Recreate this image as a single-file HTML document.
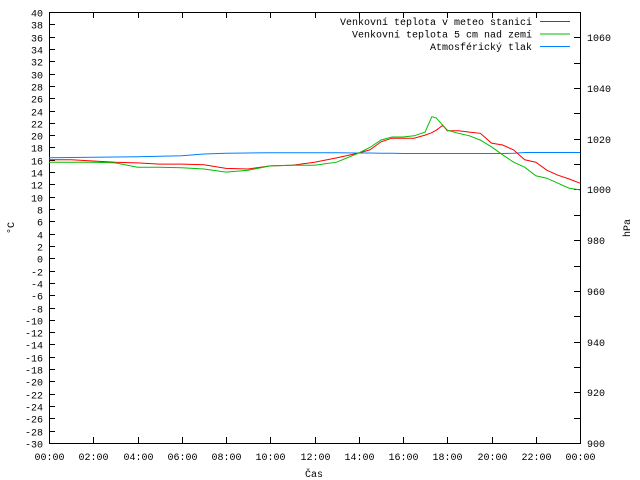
<!DOCTYPE html>
<html><head><meta charset="utf-8"><style>
body{margin:0;background:#fff}
svg{display:block;font-family:"Liberation Mono",monospace;font-size:10px}
</style></head><body>
<svg id="c" width="640" height="480"></svg>
<script>
const hours=[0,1,2,3,4,5,6,7,8,9,10,11,12,13,14,14.5,15,15.5,16,16.5,17,17.3,17.5,17.8,18,18.5,19,19.5,20,20.5,21,21.5,22,22.5,23,23.5,24];
const tempStation=[16,16,15.8,15.6,15.5,15.3,15.3,15.2,14.6,14.5,15,15.1,15.6,16.3,17.1,17.6,18.9,19.5,19.5,19.5,20,20.4,20.8,21.6,20.7,20.7,20.5,20.3,18.7,18.4,17.6,16,15.6,14.3,13.5,12.9,12.2];
const tempGround=[15.6,15.6,15.6,15.5,14.8,14.8,14.7,14.5,14,14.3,15,15.1,15.1,15.6,17.1,18,19.2,19.7,19.7,19.9,20.5,23,22.8,21.6,20.8,20.3,19.9,19.2,18.1,16.8,15.6,14.8,13.4,13,12.2,11.4,11.1];
const pressure=[1012.5,1012.6,1012.7,1012.8,1012.9,1013.1,1013.3,1014,1014.3,1014.4,1014.5,1014.5,1014.5,1014.5,1014.4,1014.4,1014.3,1014.3,1014.2,1014.2,1014.2,1014.2,1014.2,1014.2,1014.2,1014.2,1014.2,1014.2,1014.2,1014.2,1014.3,1014.6,1014.6,1014.6,1014.6,1014.6,1014.6];
const yTicks=[-30,-28,-26,-24,-22,-20,-18,-16,-14,-12,-10,-8,-6,-4,-2,0,2,4,6,8,10,12,14,16,18,20,22,24,26,28,30,32,34,36,38,40];
const pTicks=[900,920,940,960,980,1000,1020,1040,1060];
const xTicks=["00:00","02:00","04:00","06:00","08:00","10:00","12:00","14:00","16:00","18:00","20:00","22:00","00:00"];
const L=49,R=580,T=12,B=443;
const X=h=>L+(R-L)*h/24;
const Y=t=>B-(B-T)*(t+30)/70;
const P=p=>B-(B-T)*(p-900)/170;
const svg=document.getElementById('c');
const NS='http://www.w3.org/2000/svg';
function el(tag,a,parent){const e=document.createElementNS(NS,tag);for(const k in a)e.setAttribute(k,a[k]);(parent||svg).appendChild(e);return e;}
function txt(s,x,y,anchor,name){const t=el('text',{x:x,y:y,'text-anchor':anchor,fill:'#000'});t.textContent=s;


return t;}
const frame=el('rect',{x:L+.5,y:T+.5,width:R-L,height:B-T,fill:'none',stroke:'#000'});


let d='';
yTicks.forEach(v=>{const y=Math.round(Y(v))+.5;d+=`M${L} ${y}h6`;txt(String(v),L-6,y+4,'end','y-tick-label');});
pTicks.forEach(v=>{txt(String(v),R+7,Math.round(P(v))+4,'start','y2-tick-label');});
for(let p=900;p<=1070;p+=10){const y=Math.round(P(p))+.5;d+=`M${R} ${y}h-6`;}
xTicks.forEach((s,i)=>{const x=Math.round(X(i*2))+.5;d+=`M${x} ${B}v-6M${x} ${T}v6`;txt(s,x,460,'middle','x-tick-label');});
const ticks=el('path',{d:d,stroke:'#000',fill:'none'});


txt('Čas',314,477,'middle','x-axis-title');
const yt=txt('°C',14,228,'middle','y-axis-title');yt.setAttribute('transform','rotate(-90 14 228)');
const pt=txt('hPa',630,228,'middle','y2-axis-title');pt.setAttribute('transform','rotate(-90 630 228)');
function line(vals,f,color,name){const pts=hours.map((h,i)=>X(h).toFixed(1)+','+f(vals[i]).toFixed(1)).join(' ');
const pl=el('polyline',{points:pts,fill:'none',stroke:color,'stroke-width':1});

}
line(pressure,P,'#0080ff','pressure-line');
line(tempStation,Y,'#ff0000','station-temp-line');
line(tempGround,Y,'#00c000','ground-temp-line');
const leg=[['Venkovní teplota v meteo stanici','#ff0000'],['Venkovní teplota 5 cm nad zemí','#00c000'],['Atmosférický tlak','#0080ff']];
leg.forEach((l,i)=>{const y=21+i*12.5;txt(l[0],532,y+4,'end','legend-label');
const ln=el('line',{x1:540,x2:570,y1:y+.5,y2:y+.5,stroke:l[1]});

});
</script>
</body></html>
